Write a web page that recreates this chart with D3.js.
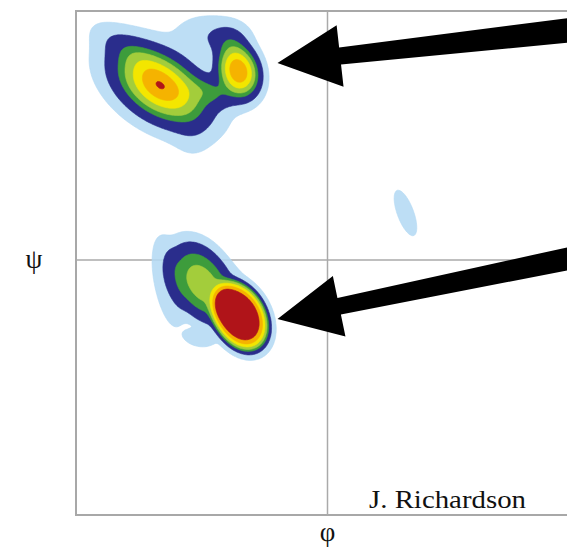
<!DOCTYPE html>
<html>
<head>
<meta charset="utf-8">
<script src="https://cdn.jsdelivr.net/npm/d3@7"></script>
<style>
  body { margin: 0; background: #fff; }
  text { font-family: "Liberation Serif", "DejaVu Serif", serif; fill: #111; }
</style>
</head>
<body>
<div id="chart"></div>
<script>
(function () {
  const WIDTH = 567;
  const HEIGHT = 549;

  // density peaks, phi / psi in degrees
  const peakNames   = ["beta main", "beta shoulder", "beta ppII", "ppII top", "beta bridge", "beta tail", "beta top", "alpha core", "alpha upper", "alpha halo", "alpha foot", "alpha rim", "left alpha"];
  const peakPhi     = [-119.5, -137.3, -63.7, -70.9, -82.3, -96.6, -87.3, -63, -90.9, -113.8, -93, -63, 55.8];
  const peakPsi     = [125.5, 148.2, 136.6, 159, 121.4, 95, 162.7, -40.5, -15.9, -15.9, -56.4, -40.5, 34];
  const peakSpreadA = [20.5, 18, 12.4, 8.6, 11, 9, 14, 22.5, 21.5, 28, 9, 30, 14.3];    // along the tilted axis
  const peakSpreadB = [12.5, 7, 9.1, 7.2, 6.5, 13, 9, 15.5, 14.4, 8.5, 5, 21, 4.8];    // across it
  const peakAngle   = [-33, -33, -73, 0, -20, 0, 0, -62, -62, -80, -15, -62, -70];
  const peakHeight  = [0.895, 0.12, 0.86, 0.13, 0.18, 0.035, 0.06, 1.0, 0.4, 0.05, 0.05, 0.04, 0.06];
  const peakShape   = [1, 1, 1.2, 1, 1, 1, 1, 3, 1.5, 2, 2, 2, 2];

  // contour levels, low to high
  const levels      = [0.02, 0.09, 0.24, 0.36, 0.53, 0.72, 0.9];
  const levelColors = ["#b2d8f3", "#2a2d8c", "#3d9c3c", "#a3cd3b", "#f3e600", "#f5b300", "#b01419"];

  // annotation arrows: tail -> tip, degrees
  const arrowTails = [[185, 167.4], [185, 3.6]];
  const arrowTips  = [[-35.8, 142.4], [-35.8, -42.7]];

  const phiDomain = [-180, 180];
  const psiDomain = [180, -180];

  const x = d3.scaleLinear().domain(phiDomain).range([76, 579]);
  const y = d3.scaleLinear().domain(psiDomain).range([11, 509]);

  const svg = d3.select("#chart").append("svg")
    .attr("width", WIDTH)
    .attr("height", HEIGHT);

  // frame
  svg.append("rect")
    .attr("x", x(-180)).attr("y", y(180))
    .attr("width", x(180) - x(-180))
    .attr("height", 515 - y(180))
    .attr("fill", "none")
    .attr("stroke", "#a8a8a8")
    .attr("stroke-width", 2);

  // zero lines
  svg.append("line")
    .attr("x1", x(0)).attr("x2", x(0))
    .attr("y1", y(180)).attr("y2", 515)
    .attr("stroke", "#aaa").attr("stroke-width", 1.5);
  svg.append("line")
    .attr("x1", x(-180)).attr("x2", x(180))
    .attr("y1", y(0)).attr("y2", y(0))
    .attr("stroke", "#aaa").attr("stroke-width", 1.5);

  function density(phi, psi) {
    let v = 0;
    for (let k = 0; k < peakPhi.length; k++) {
      const dx = phi - peakPhi[k], dy = psi - peakPsi[k];
      const a = peakAngle[k] * Math.PI / 180;
      const u = dx * Math.cos(a) + dy * Math.sin(a);
      const w = -dx * Math.sin(a) + dy * Math.cos(a);
      const q = (u / peakSpreadA[k]) ** 2 + (w / peakSpreadB[k]) ** 2;
      v += peakHeight[k] * Math.exp(-0.5 * Math.pow(q, peakShape[k]));
    }
    return v;
  }

  const step = 1;
  const n = 361, m = 361;
  const values = new Float64Array(n * m);
  for (let j = 0; j < m; j++) {
    for (let i = 0; i < n; i++) {
      values[i + j * n] = density(-180 + i * step, 180 - j * step);
    }
  }

  const contours = d3.contours().size([n, m]).thresholds(levels)(values);

  const proj = d3.geoTransform({
    point: function (gx, gy) {
      this.stream.point(x(-180 + (gx - 0.5) * step), y(180 - (gy - 0.5) * step));
    }
  });
  const path = d3.geoPath(proj);

  svg.append("g")
    .selectAll("path")
    .data(contours)
    .join("path")
    .attr("d", path)
    .attr("fill", (d, i) => levelColors[i])
    .attr("fill-opacity", (d, i) => i === 0 ? 0.85 : 1)
    .attr("stroke", (d, i) => levelColors[i])
    .attr("stroke-width", 0.6);

  // arrows, shaft widening towards the tail
  const headLen = 63, headHalf = 31, neckHalf = 8.5, tailHalf = [12.5, 11.5];
  arrowTips.forEach((tip, i) => {
    const p1 = [x(tip[0]), y(tip[1])];
    const p0 = [x(arrowTails[i][0]), y(arrowTails[i][1])];
    const len = Math.hypot(p1[0] - p0[0], p1[1] - p0[1]);
    const d = [(p1[0] - p0[0]) / len, (p1[1] - p0[1]) / len];
    const nrm = [-d[1], d[0]];
    const neck = [p1[0] - d[0] * headLen, p1[1] - d[1] * headLen];
    const pt = (b, s) => [b[0] + nrm[0] * s, b[1] + nrm[1] * s];
    const poly = [
      pt(p0, tailHalf[i]), pt(neck, neckHalf), pt(neck, headHalf), p1,
      pt(neck, -headHalf), pt(neck, -neckHalf), pt(p0, -tailHalf[i])
    ];
    svg.append("path")
      .attr("d", "M" + poly.map(p => p.join(",")).join("L") + "Z")
      .attr("fill", "#000");
  });

  // labels
  svg.append("text")
    .attr("x", 34).attr("y", 268)
    .attr("text-anchor", "middle")
    .style("font-size", "27px")
    .text("ψ");

  svg.append("text")
    .attr("x", x(0)).attr("y", 541)
    .attr("text-anchor", "middle")
    .style("font-size", "27px")
    .text("φ");

  svg.append("text")
    .attr("x", 369).attr("y", 508)
    .attr("textLength", 157)
    .attr("lengthAdjust", "spacingAndGlyphs")
    .style("font-size", "25px")
    .text("J. Richardson");
})();
</script>
</body>
</html>
